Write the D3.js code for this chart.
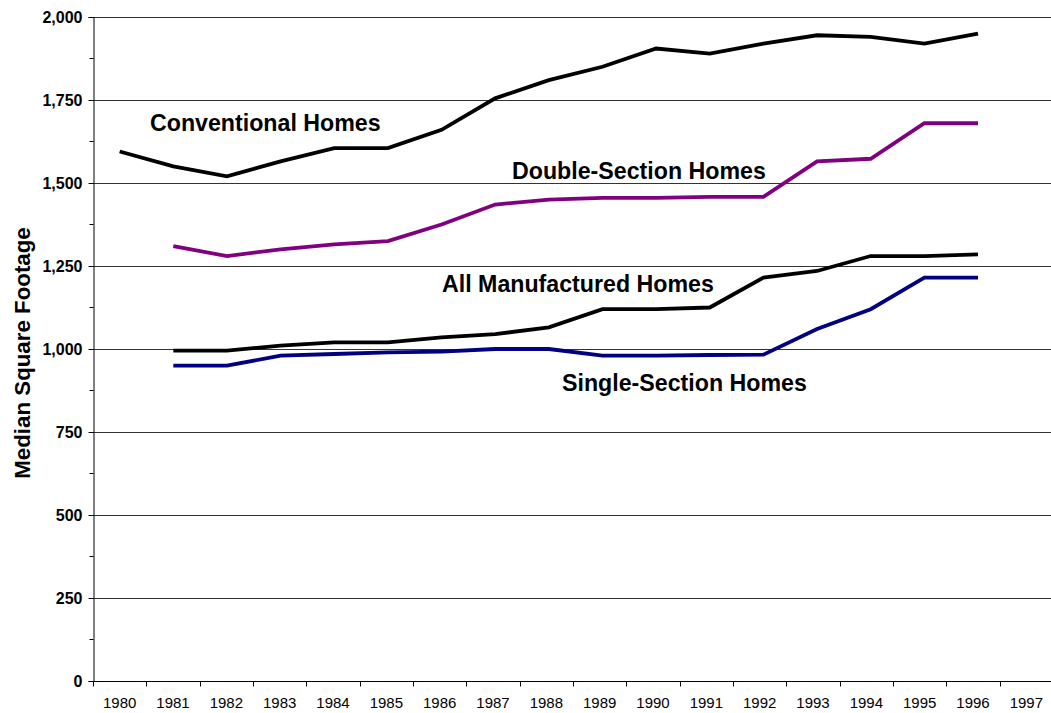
<!DOCTYPE html>
<html>
<head>
<meta charset="utf-8">
<script src="https://cdn.jsdelivr.net/npm/d3@7"></script>
<style>
  body { margin: 0; background: #fff; }
  text { font-family: Arial, "Liberation Sans", sans-serif; }
</style>
</head>
<body>
<svg id="drawing_region"></svg>
<script>
// data
const years = d3.range(1980, 1998);           // axis categories 1980..1997
const convYears = d3.range(1980, 1997);
const mfgYears = d3.range(1981, 1997);

const conventional = [1595, 1550, 1520, 1565, 1605, 1605, 1660, 1755, 1810, 1850, 1905, 1890, 1920, 1945, 1940, 1920, 1950];
const doubleSection = [1310, 1280, 1300, 1315, 1325, 1375, 1435, 1450, 1455, 1455, 1458, 1458, 1565, 1573, 1680, 1680];
const allManufactured = [995, 995, 1010, 1020, 1020, 1035, 1045, 1065, 1120, 1120, 1125, 1215, 1235, 1280, 1280, 1285];
const singleSection = [950, 950, 980, 985, 990, 992, 1000, 1000, 980, 980, 982, 983, 1060, 1120, 1215, 1215];

const yTicks = [0, 250, 500, 750, 1000, 1250, 1500, 1750, 2000];

const config = {
    width: 1051,
    height: 713,
    margin: {top: 17, right: -2, bottom: 32, left: 93}
};

const svg = d3.select('#drawing_region')
    .attr('width', config.width)
    .attr('height', config.height);

const innerW = config.width - config.margin.left - config.margin.right;
const innerH = config.height - config.margin.top - config.margin.bottom;
const plotLeft = config.margin.left, plotTop = config.margin.top, plotBottom = plotTop + innerH;

// scales
const xScale = d3.scaleBand().domain(years).range([plotLeft, plotLeft + innerW]).padding(0);
const bw = xScale.bandwidth();
// the lines sit a touch wider than the axis categories in the original
const xLine = d3.scalePoint().domain(convYears)
    .range([xScale(1980) + bw / 2, xScale(1996) + bw / 2 + 5]);
const yScale = d3.scaleLinear().domain([0, 2000]).range([plotBottom, plotTop]);

// gridlines
svg.append('g')
    .selectAll('line')
    .data(yTicks.filter(d => d > 0))
    .join('line')
    .attr('x1', plotLeft).attr('x2', config.width)
    .attr('y1', d => Math.round(yScale(d)) + 0.5)
    .attr('y2', d => Math.round(yScale(d)) + 0.5)
    .attr('stroke', '#333')
    .attr('stroke-width', 1);

// y axis
const axisY = svg.append('g')
    .attr('transform', `translate(${plotLeft + 0.5},0)`)
    .call(d3.axisLeft(yScale).tickValues(yTicks).tickSize(5).tickPadding(6).tickFormat(d3.format(',')));
axisY.select('.domain').attr('stroke', '#000');
axisY.selectAll('.tick text')
    .attr('font-size', '16px').attr('font-weight', 'bold')
    .attr('font-family', 'Arial, "Liberation Sans", sans-serif')
    .attr('fill', '#000');
// minor ticks
axisY.append('g')
    .selectAll('line')
    .data(d3.range(125, 2000, 250))
    .join('line')
    .attr('x1', -4).attr('x2', 0)
    .attr('y1', d => yScale(d)).attr('y2', d => yScale(d))
    .attr('stroke', '#000');

// x axis
const axisX = svg.append('g')
    .attr('transform', `translate(0,${Math.round(plotBottom) + 0.5})`)
    .call(d3.axisBottom(xScale).tickSize(0).tickPadding(16));
axisX.select('.domain').attr('stroke', '#000').attr('d', `M${plotLeft},0H${config.width}`);
axisX.selectAll('.tick text')
    .attr('font-size', '15px')
    .attr('font-family', 'Arial, "Liberation Sans", sans-serif')
    .attr('fill', '#000');
axisX.append('g')
    .selectAll('line')
    .data(years)
    .join('line')
    .attr('x1', d => Math.round(xScale(d)) + 0.5)
    .attr('x2', d => Math.round(xScale(d)) + 0.5)
    .attr('y1', 0).attr('y2', 5)
    .attr('stroke', '#000');

// lines
const series = [
    {name: 'Conventional Homes', years: convYears, values: conventional, color: '#000000'},
    {name: 'Double-Section Homes', years: mfgYears, values: doubleSection, color: '#800080'},
    {name: 'All Manufactured Homes', years: mfgYears, values: allManufactured, color: '#000000'},
    {name: 'Single-Section Homes', years: mfgYears, values: singleSection, color: '#000080'}
];

const line = d3.line()
    .x(d => xLine(d.year))
    .y(d => yScale(d.value));

svg.append('g')
    .selectAll('path')
    .data(series)
    .join('path')
    .attr('d', s => line(s.years.map((y, i) => ({year: y, value: s.values[i]}))))
    .attr('fill', 'none')
    .attr('stroke', s => s.color)
    .attr('stroke-width', 3.8)
    .attr('stroke-linejoin', 'miter');

// series labels
const labels = [
    {text: 'Conventional Homes', x: 150, value: 1657},
    {text: 'Double-Section Homes', x: 512, value: 1511},
    {text: 'All Manufactured Homes', x: 442, value: 1173},
    {text: 'Single-Section Homes', x: 562, value: 874}
];
svg.append('g')
    .selectAll('text')
    .data(labels)
    .join('text')
    .attr('x', d => d.x)
    .attr('y', d => yScale(d.value))
    .attr('font-size', '23.2px')
    .attr('font-weight', 'bold')
    .attr('fill', '#000')
    .text(d => d.text);

// y label
svg.append('text')
    .attr('transform', `translate(30,${(plotTop + plotBottom) / 2 + 4}) rotate(-90)`)
    .attr('text-anchor', 'middle')
    .attr('font-size', '22.3px')
    .attr('font-weight', 'bold')
    .attr('fill', '#000')
    .text('Median Square Footage');
</script>
</body>
</html>
